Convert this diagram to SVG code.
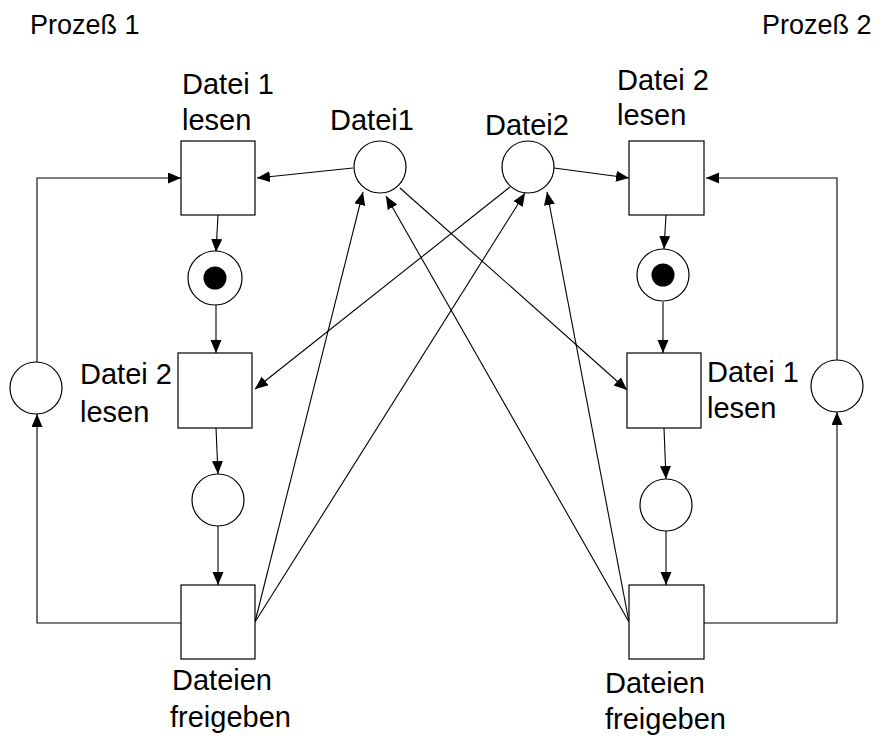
<svg xmlns="http://www.w3.org/2000/svg" width="884" height="736" viewBox="0 0 884 736">
<style>
.n{fill:#fff;stroke:#000;stroke-width:1.2}
.t{font-family:"Liberation Sans",Arial,sans-serif;font-size:29px;fill:#000}
.h{font-size:27px}
.c{fill:none;stroke:#000;stroke-width:1.1}
</style>
<defs>
<marker id="ah" markerUnits="userSpaceOnUse" markerWidth="14" markerHeight="12" refX="13" refY="5.5" orient="auto">
<path d="M0,0 L13,5.5 L0,11 z" fill="#000"/>
</marker>
</defs>
<rect width="884" height="736" fill="#fff"/>
<g id="labels">
<text class="t h" x="30" y="34">Prozeß 1</text>
<text class="t h" x="762" y="34">Prozeß 2</text>
</g>
<g id="connectors">
<path class="c" d="M353,168 L257,178" marker-end="url(#ah)"/>
<path class="c" d="M400,188 L627,390" marker-end="url(#ah)"/>
<path class="c" d="M510,187 L255,389" marker-end="url(#ah)"/>
<path class="c" d="M554,168 L629,178" marker-end="url(#ah)"/>
<path class="c" d="M255,622 L363,192" marker-end="url(#ah)"/>
<path class="c" d="M255,622 L525,193" marker-end="url(#ah)"/>
<path class="c" d="M629,622 L386,196" marker-end="url(#ah)"/>
<path class="c" d="M629,622 L547,192" marker-end="url(#ah)"/>
<path class="c" d="M181,623 H37 V414" marker-end="url(#ah)"/>
<path class="c" d="M37,362 V178 H181" marker-end="url(#ah)"/>
<path class="c" d="M218,215 L216,252" marker-end="url(#ah)"/>
<path class="c" d="M216,305 L216,353" marker-end="url(#ah)"/>
<path class="c" d="M216,428 L218,474" marker-end="url(#ah)"/>
<path class="c" d="M218,526 L218,585" marker-end="url(#ah)"/>
<path class="c" d="M666,215 L664,249" marker-end="url(#ah)"/>
<path class="c" d="M663,302 L663,353" marker-end="url(#ah)"/>
<path class="c" d="M664,428 L666,479" marker-end="url(#ah)"/>
<path class="c" d="M666,531 L666,585" marker-end="url(#ah)"/>
<path class="c" d="M704,623 H837 V412" marker-end="url(#ah)"/>
<path class="c" d="M837,360 V178 H706" marker-end="url(#ah)"/>
</g>
<g id="datei1"><circle class="n" cx="380" cy="167" r="26"/><text class="t" x="330" y="130">Datei1</text></g>
<g id="datei2"><circle class="n" cx="528" cy="167" r="26"/><text class="t" x="485" y="135">Datei2</text></g>
<g id="p1-read1"><rect class="n" x="181" y="141" width="74" height="74"/><text class="t" x="182" y="94">Datei 1</text><text class="t" x="182" y="130">lesen</text></g>
<g id="p1-token"><circle class="n" cx="215" cy="278" r="27"/><circle cx="215" cy="278" r="11.5" fill="#000"/></g>
<g id="p1-read2"><rect class="n" x="178" y="353" width="74" height="75"/><text class="t" x="80" y="384">Datei 2</text><text class="t" x="80" y="422">lesen</text></g>
<g id="p1-place"><circle class="n" cx="218" cy="500" r="26"/></g>
<g id="p1-release"><rect class="n" x="181" y="585" width="74" height="74"/><text class="t" x="172" y="690">Dateien</text><text class="t" x="170" y="727">freigeben</text></g>
<g id="p1-loop"><circle class="n" cx="36" cy="388" r="26"/></g>
<g id="p2-read2"><rect class="n" x="629" y="141" width="75" height="74"/><text class="t" x="617" y="90">Datei 2</text><text class="t" x="617" y="125">lesen</text></g>
<g id="p2-token"><circle class="n" cx="663" cy="275" r="26"/><circle cx="663" cy="275" r="11.5" fill="#000"/></g>
<g id="p2-read1"><rect class="n" x="627" y="353" width="74" height="75"/><text class="t" x="707" y="382">Datei 1</text><text class="t" x="707" y="418">lesen</text></g>
<g id="p2-place"><circle class="n" cx="666" cy="505" r="26"/></g>
<g id="p2-release"><rect class="n" x="629" y="585" width="75" height="74"/><text class="t" x="605" y="693">Dateien</text><text class="t" x="605" y="729">freigeben</text></g>
<g id="p2-loop"><circle class="n" cx="837" cy="386" r="26"/></g>
</svg>
